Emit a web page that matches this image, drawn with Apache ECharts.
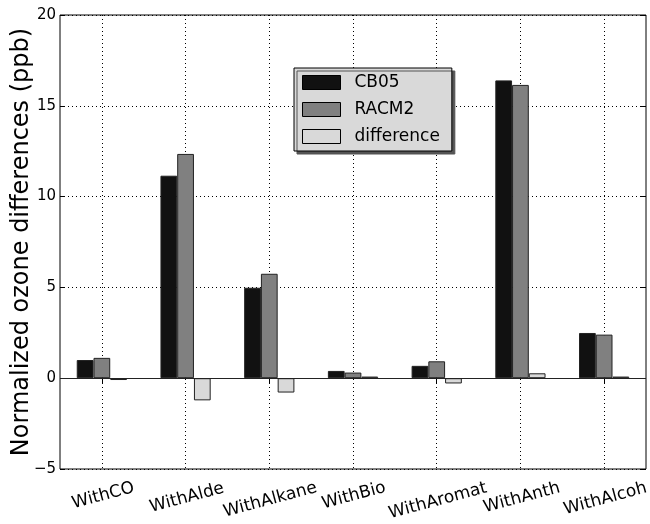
<!DOCTYPE html>
<html><head><meta charset="utf-8">
<script src="https://cdn.jsdelivr.net/npm/echarts@6/dist/echarts.min.js"></script>
<style>html,body{margin:0;padding:0;background:#fff}#c{width:650px;height:524px}</style>
</head><body><div id="c"></div>
<script>
var categories = ['WithCO','WithAlde','WithAlkane','WithBio','WithAromat','WithAnth','WithAlcoh'];
var cb05 = [1.0, 11.15, 4.98, 0.4, 0.68, 16.4, 2.49];
var racm2 = [1.12, 12.35, 5.75, 0.31, 0.93, 16.15, 2.4];
var difference = [-0.1, -1.22, -0.79, 0.09, -0.29, 0.27, 0.09];
var yTicks = {min: -5, max: 20, interval: 5};
var font = 'DejaVu Sans';
var xFontSize = 17;

// per-label padding so rotated labels share a common top edge (matplotlib-like)
var ctx = document.createElement('canvas').getContext('2d');
ctx.font = xFontSize + 'px ' + font;
var rich = {};
var s15 = Math.sin(15 * Math.PI / 180), t15 = Math.tan(15 * Math.PI / 180);
categories.forEach(function (c, i) {
  var w = ctx.measureText(c).width;
  var p = w / 2 * s15;
  rich['r' + i] = {fontSize: xFontSize, fontFamily: font, color: '#000',
    padding: [Math.round(p), Math.round(2 * p * t15 + 2), 0, 0]};
});

var chart = echarts.init(document.getElementById('c'), null, {renderer: 'canvas'});
function bar(name, data, color) {
  return {
    name: name, type: 'bar', data: data, barGap: '0%', barCategoryGap: '40%',
    itemStyle: {color: color, borderColor: '#222', borderWidth: 1},
    animation: false
  };
}
var s1 = bar('CB05', cb05, '#111111');
var s2 = bar('RACM2', racm2, '#808080');
var s3 = bar('difference', difference, '#d9d9d9');
s1.markLine = {silent: true, symbol: 'none', label: {show: false},
  lineStyle: {color: '#222', type: 'solid', width: 1}, data: [{yAxis: 0}]};
chart.setOption({
  animation: false,
  textStyle: {fontFamily: font},
  grid: {left: 60, right: 4, top: 15, bottom: 55, outerBoundsMode: 'none', containLabel: false,
    show: true, borderColor: '#000', borderWidth: 1, backgroundColor: 'transparent'},
  legend: {
    orient: 'vertical', left: 294, top: 68, padding: [6, 12, 6, 8],
    icon: 'rect', itemWidth: 38, itemHeight: 14, itemGap: 10,
    backgroundColor: '#d9d9d9', borderColor: '#000', borderWidth: 1,
    shadowColor: '#555', shadowBlur: 0, shadowOffsetX: 3, shadowOffsetY: 3,
    textStyle: {fontFamily: font, fontSize: 17, color: '#000', padding: [0, 0, 0, 9]},
    data: ['CB05', 'RACM2', 'difference'],
    itemStyle: {borderColor: '#000', borderWidth: 1}
  },
  xAxis: [{
    type: 'category', data: categories, boundaryGap: true,
    axisLine: {show: false},
    axisTick: {show: true, inside: true, length: 5, alignWithLabel: true, lineStyle: {color: '#000'}},
    splitLine: {show: true, alignWithLabel: true, lineStyle: {color: '#000', type: [1, 3], width: 1}},
    axisLabel: {rotate: 15, align: 'center', verticalAlign: 'top', margin: 10, interval: 0,
      fontSize: xFontSize, color: '#000', fontFamily: font,
      formatter: function (v, i) { return '{r' + i + '|' + v + '}'; }, rich: rich}
  }, {
    type: 'category', data: categories, boundaryGap: true, position: 'top',
    axisLine: {show: false}, axisLabel: {show: false}, splitLine: {show: false},
    axisTick: {show: true, inside: true, length: 5, alignWithLabel: true, lineStyle: {color: '#000'}}
  }],
  yAxis: [{
    type: 'value', min: yTicks.min, max: yTicks.max, interval: yTicks.interval,
    name: 'Normalized ozone differences (ppb)', nameLocation: 'middle', nameGap: 26,
    nameMoveOverlap: false,
    nameTextStyle: {fontSize: 24, color: '#000', fontFamily: font},
    axisLine: {show: false},
    axisTick: {show: true, inside: true, length: 5, lineStyle: {color: '#000'}},
    splitLine: {show: true, lineStyle: {color: '#000', type: [1, 3], width: 1}},
    axisLabel: {fontSize: 15, color: '#000', fontFamily: font, margin: 4,
      formatter: function (v) { return String(v).replace('-', '\u2212'); }}
  }, {
    type: 'value', min: yTicks.min, max: yTicks.max, interval: yTicks.interval, position: 'right',
    axisLine: {show: false}, axisLabel: {show: false}, splitLine: {show: false},
    axisTick: {show: true, inside: true, length: 5, lineStyle: {color: '#000'}}
  }],
  series: [s1, s2, s3]
});
</script></body></html>
